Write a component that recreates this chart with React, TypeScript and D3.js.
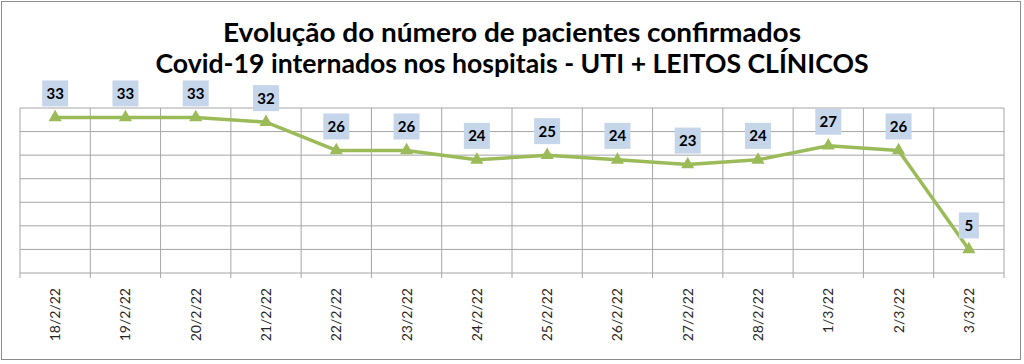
import { useRef, useEffect } from 'react';
import * as d3 from 'd3';

const categories = [
  '18/2/22', '19/2/22', '20/2/22', '21/2/22', '22/2/22', '23/2/22', '24/2/22',
  '25/2/22', '26/2/22', '27/2/22', '28/2/22', '1/3/22', '2/3/22', '3/3/22',
];
const values = [33, 33, 33, 32, 26, 26, 24, 25, 24, 23, 24, 27, 26, 5];
const titleLines = [
  'Evolução do número de pacientes confirmados',
  'Covid-19 internados nos hospitais - UTI + LEITOS CLÍNICOS',
];
const titleWidths = [578, 713];
const yTicks = [0, 5, 10, 15, 20, 25, 30, 35];

const width = 1024;
const height = 364;
const margin = { top: 108, right: 20, bottom: 91, left: 20 };
const font = 'Lato, "Open Sans", sans-serif';

const App = () => {
  const svgRef = useRef(null);

  useEffect(() => {
    document.body.style.margin = '0';
    const svg = d3.select(svgRef.current);
    svg.selectAll('*').remove();

    const innerWidth = width - margin.left - margin.right;
    const innerHeight = height - margin.top - margin.bottom;

    // outer frame
    svg.append('rect')
      .attr('x', 1.5).attr('y', 1.5)
      .attr('width', 1019).attr('height', 358)
      .attr('fill', 'white')
      .attr('stroke', '#8c8c8c');

    // title
    svg.selectAll('text.title')
      .data(titleLines)
      .enter()
      .append('text')
      .attr('class', 'title')
      .attr('x', 512)
      .attr('y', (_, i) => 42 + i * 31)
      .attr('text-anchor', 'middle')
      .attr('font-family', font)
      .attr('font-weight', 'bold')
      .attr('font-size', 26)
      .attr('textLength', (_, i) => titleWidths[i])
      .attr('lengthAdjust', 'spacingAndGlyphs')
      .attr('fill', 'black')
      .text((d) => d);

    const g = svg.append('g')
      .attr('transform', `translate(${margin.left}, ${margin.top})`);

    const xScale = d3.scaleBand<string>()
      .domain(categories)
      .range([0, innerWidth]);

    const yScale = d3.scaleLinear()
      .domain([0, 35])
      .range([innerHeight, 0]);

    // horizontal grid
    g.selectAll('line.hgrid')
      .data(yTicks)
      .enter()
      .append('line')
      .attr('class', 'hgrid')
      .attr('x1', 0).attr('x2', innerWidth)
      .attr('y1', (d) => yScale(d)).attr('y2', (d) => yScale(d))
      .attr('stroke', '#a6a6a6')
      .attr('stroke-width', 1);

    // vertical grid at category boundaries, with ticks below axis
    const bounds = categories.map((c) => xScale(c) as number).concat([innerWidth]);
    g.selectAll('line.vgrid')
      .data(bounds)
      .enter()
      .append('line')
      .attr('class', 'vgrid')
      .attr('x1', (d) => d).attr('x2', (d) => d)
      .attr('y1', 0).attr('y2', innerHeight + 5)
      .attr('stroke', '#a6a6a6')
      .attr('stroke-width', 1);

    // x labels
    g.selectAll('text.xlab')
      .data(categories)
      .enter()
      .append('text')
      .attr('class', 'xlab')
      .attr('transform', (d) => {
        const x = (xScale(d) as number) + xScale.bandwidth() / 2;
        return `translate(${x + 5}, ${innerHeight + 15}) rotate(-90)`;
      })
      .attr('text-anchor', 'end')
      .attr('font-family', font)
      .attr('font-size', 14)
      .attr('fill', '#262626')
      .text((d) => d);

    const cx = (i: number) => (xScale(categories[i]) as number) + xScale.bandwidth() / 2;

    const lineGenerator = d3.line<number>()
      .x((_, i) => cx(i))
      .y((d) => yScale(d));

    g.append('path')
      .datum(values)
      .attr('fill', 'none')
      .attr('stroke', '#9bbb59')
      .attr('stroke-width', 3.5)
      .attr('stroke-linejoin', 'round')
      .attr('d', lineGenerator);

    const tri = d3.symbol().type(d3.symbolTriangle).size(75);
    g.selectAll('path.marker')
      .data(values)
      .enter()
      .append('path')
      .attr('class', 'marker')
      .attr('transform', (d, i) => `translate(${cx(i)}, ${yScale(d)})`)
      .attr('d', tri)
      .attr('fill', '#9bbb59');

    // data labels
    const labels = g.selectAll('g.dlab')
      .data(values)
      .enter()
      .append('g')
      .attr('class', 'dlab')
      .attr('transform', (d, i) => `translate(${cx(i)}, ${yScale(d) - 24})`);

    labels.append('rect')
      .attr('x', (d) => (d < 10 ? -10 : -13))
      .attr('y', -13)
      .attr('width', (d) => (d < 10 ? 20 : 26))
      .attr('height', 26)
      .attr('fill', '#c5d5ea');

    labels.append('text')
      .attr('text-anchor', 'middle')
      .attr('dy', '0.36em')
      .attr('font-family', font)
      .attr('font-weight', 'bold')
      .attr('font-size', 15)
      .attr('fill', 'black')
      .text((d) => d);
  }, []);

  return <svg ref={svgRef} width={width} height={height} style={{ display: 'block' }} />;
};

export default App;
